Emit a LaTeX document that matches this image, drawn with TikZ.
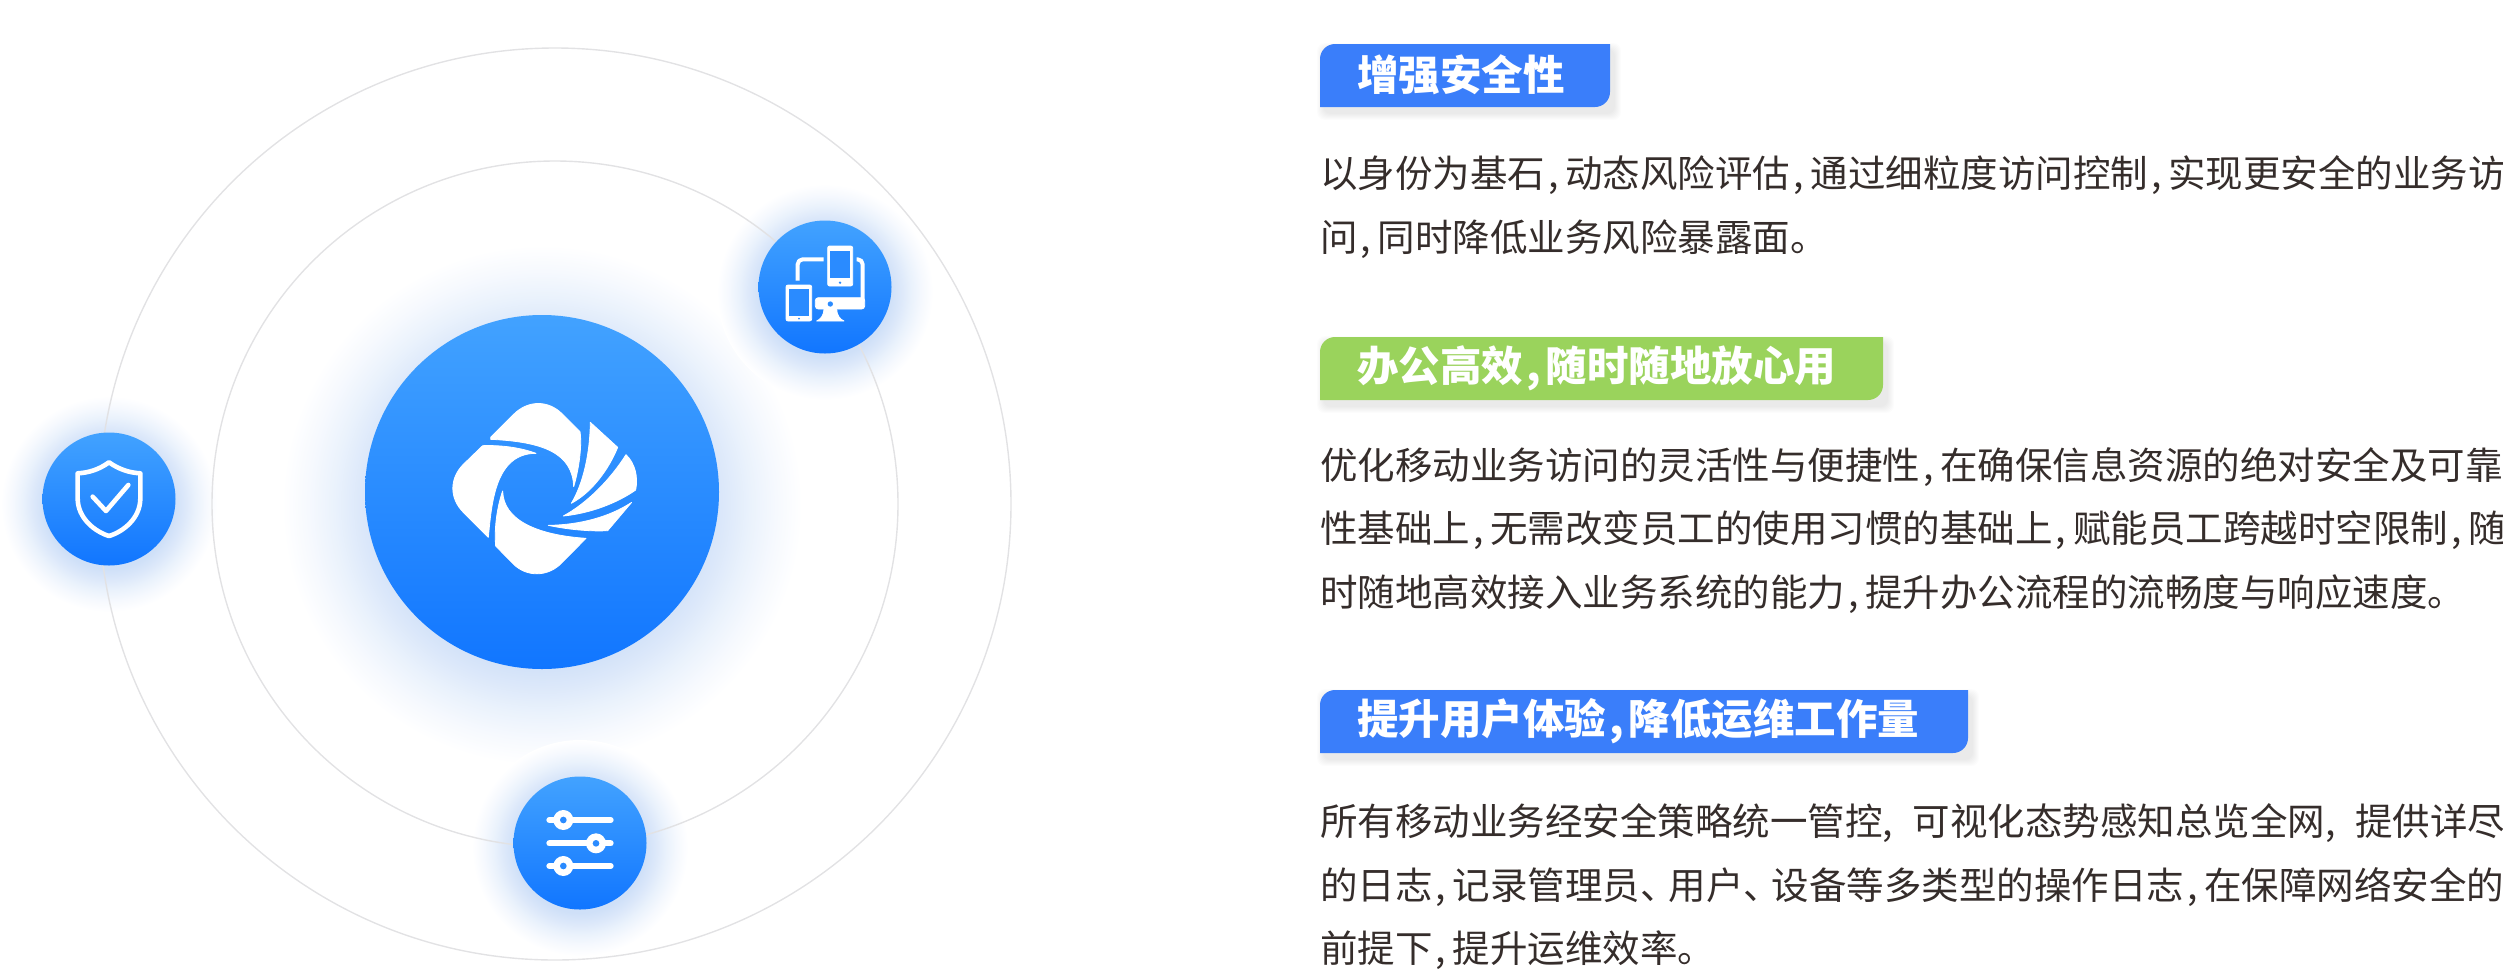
\documentclass[tikz,border=0pt]{standalone}
\usepackage{fontspec}
\setmainfont{Noto Sans CJK SC}
\usetikzlibrary{calc}

\definecolor{orbtop}{HTML}{42A2FF}
\definecolor{orbbottom}{HTML}{1176FF}
\definecolor{orbmid}{HTML}{2A8BFF}
\definecolor{orbit}{HTML}{E2E2E4}
\definecolor{tagblue}{HTML}{3A7EFA}
\definecolor{taggreen}{HTML}{9AD35C}
\definecolor{bodyink}{HTML}{352D2B}
\definecolor{glowa}{HTML}{CFE0F8}
\definecolor{glowb}{HTML}{DCE8FA}
\definecolor{glowc}{HTML}{EAF2FC}
\definecolor{glowd}{HTML}{F6F9FE}

\pgfdeclareradialshading{orbglow}{\pgfpoint{0bp}{0bp}}{color(0bp)=(glowa); color(15bp)=(glowa); color(17.5bp)=(glowb); color(20bp)=(glowc); color(22.5bp)=(glowd); color(25bp)=(white); color(50bp)=(white)}

\tikzset{
	orb/.style={circle, inner sep=0pt, top color=orbtop, bottom color=orbbottom},
	iconline/.style={draw=white, line width=4.6pt, line cap=round, line join=round},
	iconfill/.style={fill=white, draw=white, line width=.8pt, line join=round},
	iconhole/.style={fill=orbmid},
	tagtext/.style={anchor=west, inner sep=0pt, text=white, font=\bfseries\fontsize{41.5}{49}\selectfont},
	bodytext/.style={anchor=west, inner sep=0pt, text=bodyink, font=\fontsize{37.5}{45}\selectfont}
}

\newcommand{\dou}{\makebox[.54em][l]{\hspace{.08em},}}
\newcommand{\wdou}{\makebox[.8em][l]{,}}
\newcommand{\dun}{\makebox[.75em][l]{、}}
\newcommand{\tagshape}[5]{
	\foreach \d in {1,...,7}
		\fill[black, opacity=.012, rounded corners=8pt] (#1+4-\d,#2+6-\d) rectangle (#3+4+\d,#4+6+\d);
	\fill[#5] (#1,#4) [rounded corners=15pt] -- (#1,#2) [sharp corners] -- (#3,#2) [rounded corners=15pt] -- (#3,#4) [sharp corners] -- cycle;
}

\begin{document}
\begin{tikzpicture}[x=1pt, y=-1pt]
	\clip (0,0) rectangle (2503,970);

	\shade[shading=orbglow] (542,505) circle (260);
	\shade[shading=orbglow] (825,292) circle (108);
	\shade[shading=orbglow] (109,504) circle (108);
	\shade[shading=orbglow] (580,848) circle (108);

	\draw[orbit, line width=1.4pt] (555,504) circle (456);
	\draw[orbit, line width=1.4pt] (555,504) circle (343);

	\node[orb, minimum size=354pt] (hub) at (542,492) {};
	\node[orb, minimum size=133pt] (deviceorb) at (825,287) {};
	\node[orb, minimum size=133pt] (shieldorb) at (109,499) {};
	\node[orb, minimum size=133pt] (sliderorb) at (580,843) {};

	\begin{scope}[shift={(330,290)}, scale=1/3]
		\fill[iconfill] (482,442) -- (552,372) .. controls (595,330) and (655,330) .. (697,372) -- (750,425) .. controls (757,470) and (745,545) .. (731,590) .. controls (728,490) and (640,455) .. (482,448) -- cycle;
		\fill[iconfill] (458,467) -- (400,523) .. controls (358,565) and (358,625) .. (400,667) -- (475,742) .. controls (485,640) and (495,490) .. (618,490) .. controls (570,472) and (510,465) .. (458,467) -- cycle;
		\fill[iconfill] (518,603) .. controls (520,690) and (620,735) .. (768,745) -- (697,817) .. controls (655,862) and (590,862) .. (550,822) -- (497,768) .. controls (492,710) and (503,645) .. (518,603) -- cycle;
		\fill[iconfill] (781,397) -- (863,472) .. controls (840,530) and (790,605) .. (724,640) .. controls (760,580) and (780,490) .. (781,397) -- cycle;
		\fill[iconfill] (888,494) .. controls (915,520) and (925,560) .. (917,600) .. controls (860,640) and (780,670) .. (700,678) .. controls (770,640) and (840,570) .. (888,494) -- cycle;
		\fill[iconfill] (905,637) -- (833,722) .. controls (780,725) and (710,718) .. (655,706) .. controls (750,705) and (840,680) .. (905,637) -- cycle;
	\end{scope}

	\begin{scope}[shift={(720,190)}, scale=1/3]
		\draw[iconline, line width=4pt, line cap=butt, rounded corners=5pt] (233,272) -- (233,208) -- (311,208);
		\draw[iconline, line width=4pt, line cap=butt, rounded corners=5pt] (410,208) -- (428,208) -- (428,335);
		\fill[iconfill, rounded corners=3pt] (286,323) -- (434,323) -- (434,357) -- (286,357) -- cycle;
		\fill[iconfill] (312,357) .. controls (312,375) and (302,388) .. (290,393) -- (372,393) .. controls (360,388) and (350,375) .. (350,357) -- cycle;
		\fill[iconhole] (331,342) circle (8);
		\fill[iconfill, rounded corners=2pt] (323,168) rectangle (398,288);
		\fill[iconhole] (331,182) rectangle (390,265);
		\fill[iconhole] (360,278) circle (4);
		\fill[iconfill, rounded corners=2pt] (198,285) rectangle (275,393);
		\fill[iconhole] (206,298) rectangle (268,377);
		\fill[iconhole] (237,386) circle (3);
	\end{scope}

	\begin{scope}[shift={(20,410)}, scale=1/3]
		\draw[iconline] (267,157) .. controls (235,180) and (205,188) .. (173,190) -- (173,265) .. controls (173,325) and (225,365) .. (267,378) .. controls (310,365) and (361,325) .. (361,265) -- (361,190) .. controls (330,188) and (300,180) .. (267,157) -- cycle;
		\draw[iconline] (218,260) -- (258,303) -- (325,225);
	\end{scope}

	\begin{scope}[shift={(480,750)}, scale=1/3]
		\foreach \ky/\kx in {210/250, 280/348, 348/250} {
			\draw[iconline, line width=6pt] (208,\ky) -- (392,\ky);
			\fill[white] (\kx,\ky) circle (30);
			\fill[iconhole] (\kx,\ky) circle (10);
		}
	\end{scope}

	\tagshape{1320}{44}{1610}{107}{tagblue}
	\tagshape{1320}{337}{1883}{400}{taggreen}
	\tagshape{1320}{690}{1968}{753}{tagblue}

	\node[tagtext] (tagsafe) at (1357,75) {增强安全性};
	\node[tagtext] (tagfast) at (1357,368) {办公高效\dou 随时随地放心用};
	\node[tagtext] (tagease) at (1357,721) {提升用户体验\dou 降低运维工作量};

	\node[bodytext] (safea) at (1320,175) {以身份为基石\dou 动态风险评估\dou 通过细粒度访问控制\dou 实现更安全的业务访};
	\node[bodytext] (safeb) at (1320,239) {问\dou 同时降低业务风险暴露面。};

	\node[bodytext] (fasta) at (1320,467) {优化移动业务访问的灵活性与便捷性\dou 在确保信息资源的绝对安全及可靠};
	\node[bodytext] (fastb) at (1320,530) {性基础上\dou 无需改变员工的使用习惯的基础上\dou 赋能员工跨越时空限制\dou 随};
	\node[bodytext] (fastc) at (1320,594) {时随地高效接入业务系统的能力\dou 提升办公流程的流畅度与响应速度。};

	\node[bodytext] (easea) at (1320,823) {所有移动业务经安全策略统一管控\wdou 可视化态势感知总览全网\wdou 提供详尽};
	\node[bodytext] (easeb) at (1320,887) {的日志\dou 记录管理员\dun 用户\dun 设备等多类型的操作日志\dou 在保障网络安全的};
	\node[bodytext] (easec) at (1320,950) {前提下\dou 提升运维效率。};
\end{tikzpicture}
\end{document}
